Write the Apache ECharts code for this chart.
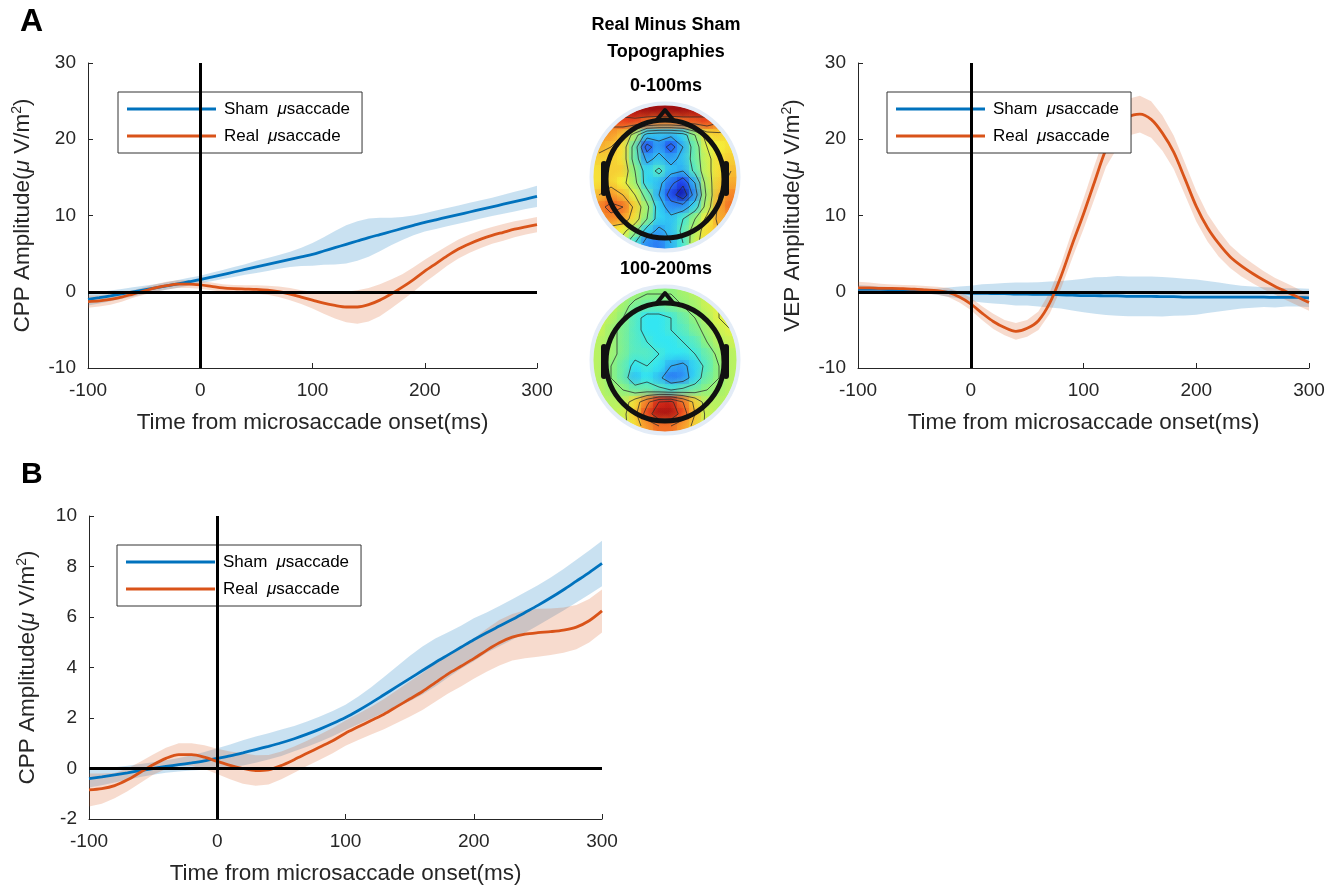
<!DOCTYPE html>
<html><head><meta charset="utf-8">
<script src="https://cdn.jsdelivr.net/npm/echarts/dist/echarts.min.js"></script>
<style>html,body{margin:0;padding:0;background:#fff}#c{width:1339px;height:888px}</style>
</head><body><div id="c"></div>
<script>
// ---------------- DATA ----------------
const time = [-100,-90,-80,-70,-60,-50,-40,-30,-20,-10,0,10,20,30,40,50,60,70,80,90,100,110,120,130,140,150,160,170,180,190,200,210,220,230,240,250,260,270,280,290,300];
const xTicks = [-100, 0, 100, 200, 300];
const seriesNames = ['Sham μsaccade', 'Real μsaccade'];

// Panel A left: CPP
const cppShamMean = [-1.0,-0.78,-0.54,-0.28,-0.02,0.24,0.5,0.76,1.04,1.32,1.6,1.93,2.26,2.59,2.92,3.25,3.58,3.91,4.24,4.57,4.9,5.34,5.78,6.22,6.66,7.1,7.5,7.9,8.3,8.7,9.1,9.44,9.78,10.12,10.46,10.8,11.14,11.48,11.82,12.16,12.5];
const cppShamErr  = [0.8,0.75,0.7,0.65,0.6,0.55,0.5,0.5,0.5,0.5,0.5,0.55,0.6,0.65,0.7,0.8,0.85,0.9,1.0,1.2,1.5,1.8,2.2,2.5,2.6,2.5,2.2,1.8,1.5,1.3,1.2,1.2,1.2,1.2,1.2,1.2,1.2,1.25,1.3,1.3,1.4];
const cppRealMean = [-1.3,-1.2,-1.0,-0.7,-0.3,0.1,0.5,0.8,1.0,1.0,0.9,0.7,0.5,0.4,0.35,0.3,0.2,0.0,-0.3,-0.7,-1.1,-1.5,-1.8,-2.0,-2.0,-1.7,-1.1,-0.3,0.6,1.6,2.7,3.7,4.7,5.6,6.3,6.9,7.4,7.8,8.2,8.5,8.8];
const cppRealErr  = [0.8,0.75,0.7,0.6,0.5,0.5,0.5,0.5,0.5,0.5,0.5,0.5,0.5,0.5,0.5,0.55,0.6,0.7,0.8,0.9,1.1,1.4,1.7,2.0,2.2,2.2,2.1,1.9,1.7,1.6,1.5,1.4,1.3,1.25,1.2,1.15,1.1,1.1,1.05,1.0,1.0];

// Panel A right: VEP
const vepShamMean = [0.3,0.3,0.3,0.25,0.2,0.15,0.1,0.0,-0.05,-0.1,-0.2,-0.2,-0.25,-0.25,-0.3,-0.3,-0.35,-0.35,-0.4,-0.45,-0.5,-0.5,-0.55,-0.55,-0.6,-0.6,-0.6,-0.65,-0.65,-0.7,-0.7,-0.7,-0.7,-0.7,-0.7,-0.7,-0.7,-0.75,-0.75,-0.75,-0.8];
const vepShamErr  = [0.6,0.5,0.4,0.35,0.3,0.3,0.3,0.4,0.6,0.8,1.0,1.2,1.3,1.4,1.5,1.5,1.6,1.7,1.8,2.0,2.2,2.4,2.5,2.6,2.6,2.6,2.6,2.6,2.5,2.4,2.3,2.1,1.9,1.7,1.5,1.4,1.3,1.3,1.2,1.2,1.2];
const vepRealMean = [0.5,0.5,0.45,0.45,0.4,0.35,0.25,0.15,-0.1,-0.7,-1.6,-2.8,-3.9,-4.7,-5.2,-4.8,-3.8,-1.5,2.0,6.2,10.2,14.5,18.7,21.3,22.9,23.3,22.6,20.8,18.3,14.8,11.2,8.4,6.3,4.6,3.4,2.4,1.5,0.7,0.0,-0.7,-1.4];
const vepRealErr  = [0.8,0.7,0.6,0.5,0.5,0.5,0.5,0.5,0.6,0.7,0.8,0.9,1.0,1.0,1.1,1.1,1.2,1.4,1.6,1.8,2.0,2.2,2.3,2.4,2.4,2.4,2.4,2.3,2.2,2.1,2.0,1.8,1.7,1.5,1.4,1.3,1.2,1.1,1.1,1.1,1.1];

// Panel B: CPP
const bShamMean = [-0.4,-0.33,-0.25,-0.17,-0.08,0.0,0.08,0.15,0.22,0.3,0.4,0.5,0.62,0.75,0.88,1.02,1.18,1.36,1.56,1.78,2.02,2.3,2.6,2.92,3.24,3.56,3.88,4.2,4.5,4.8,5.1,5.38,5.64,5.9,6.18,6.46,6.76,7.08,7.42,7.76,8.12];
const bShamErr  = [0.35,0.33,0.3,0.28,0.26,0.25,0.25,0.27,0.3,0.35,0.4,0.45,0.5,0.52,0.52,0.52,0.5,0.5,0.5,0.5,0.5,0.55,0.62,0.7,0.8,0.9,0.95,0.95,0.9,0.85,0.85,0.8,0.8,0.8,0.8,0.8,0.8,0.82,0.85,0.87,0.9];
const bRealMean = [-0.85,-0.8,-0.68,-0.45,-0.15,0.15,0.4,0.55,0.55,0.45,0.28,0.12,0.0,-0.08,-0.05,0.12,0.35,0.6,0.85,1.1,1.4,1.65,1.9,2.15,2.45,2.75,3.05,3.4,3.75,4.05,4.35,4.68,4.98,5.2,5.32,5.38,5.42,5.48,5.6,5.85,6.24];
const bRealErr  = [0.65,0.6,0.5,0.45,0.42,0.4,0.42,0.45,0.45,0.47,0.5,0.55,0.6,0.6,0.58,0.55,0.52,0.5,0.5,0.5,0.5,0.52,0.55,0.6,0.65,0.7,0.73,0.76,0.78,0.8,0.8,0.85,0.9,0.92,0.95,0.95,0.92,0.9,0.88,0.86,0.85];

// Topographies (real minus sham), 12x12 grid, rows top->bottom, -1 (blue) .. 1 (red)
const topo0to100 = [
 [0.8,0.85,0.9,0.95,1.0,1.0,1.0,1.0,0.95,0.9,0.85,0.8],
 [0.6,0.65,0.7,0.7,0.6,0.55,0.55,0.6,0.65,0.7,0.6,0.5],
 [0.55,0.5,0.4,0.1,-0.3,-0.35,-0.35,-0.3,0.0,0.3,0.35,0.3],
 [0.45,0.4,0.3,-0.1,-0.7,-0.45,-0.7,-0.4,-0.1,0.2,0.25,0.3],
 [0.35,0.35,0.3,-0.1,-0.45,-0.35,-0.45,-0.35,-0.1,0.15,0.3,0.35],
 [0.3,0.35,0.35,0.0,-0.3,-0.15,-0.35,-0.4,-0.15,0.15,0.3,0.4],
 [0.3,0.35,0.25,0.05,-0.3,-0.35,-0.55,-0.75,-0.4,0.1,0.35,0.45],
 [0.4,0.5,0.4,0.2,-0.1,-0.4,-0.7,-0.95,-0.5,0.05,0.4,0.55],
 [0.55,0.65,0.6,0.35,0.05,-0.3,-0.5,-0.5,-0.3,0.1,0.45,0.6],
 [0.5,0.55,0.5,0.3,0.0,-0.3,-0.35,-0.2,0.0,0.25,0.45,0.5],
 [0.3,0.3,0.25,0.05,-0.3,-0.45,-0.35,-0.15,0.1,0.3,0.4,0.4],
 [0.2,0.2,0.1,-0.2,-0.5,-0.55,-0.4,-0.2,0.15,0.3,0.3,0.3]
];
const topo100to200 = [
 [0.15,0.15,0.1,0.05,0.0,0.0,0.0,0.05,0.1,0.15,0.2,0.2],
 [0.2,0.15,0.05,-0.05,-0.1,-0.1,-0.05,0.0,0.05,0.15,0.2,0.2],
 [0.2,0.1,0.0,-0.15,-0.25,-0.25,-0.2,-0.1,0.0,0.1,0.2,0.2],
 [0.15,0.05,-0.05,-0.15,-0.25,-0.25,-0.2,-0.15,-0.05,0.05,0.15,0.2],
 [0.1,0.05,-0.05,-0.15,-0.2,-0.25,-0.25,-0.2,-0.15,0.0,0.1,0.15],
 [0.1,0.05,-0.05,-0.15,-0.15,-0.2,-0.25,-0.25,-0.2,-0.1,0.05,0.1],
 [0.1,0.0,-0.1,-0.25,-0.2,-0.25,-0.4,-0.45,-0.3,-0.15,0.0,0.1],
 [0.1,0.0,-0.1,-0.35,-0.25,-0.35,-0.55,-0.5,-0.3,-0.1,0.0,0.1],
 [0.1,0.05,0.0,-0.1,-0.1,-0.15,-0.2,-0.15,-0.1,0.0,0.05,0.1],
 [0.1,0.1,0.1,0.3,0.55,0.8,0.85,0.6,0.35,0.1,0.1,0.1],
 [0.1,0.1,0.15,0.35,0.7,0.95,0.95,0.7,0.4,0.15,0.1,0.1],
 [0.1,0.1,0.15,0.3,0.5,0.6,0.6,0.5,0.35,0.15,0.1,0.1]
];
const topoTitles = ['0-100ms', '100-200ms'];
const contourLevels = [-0.8, -0.6, -0.4, -0.2, 0.0, 0.2, 0.4, 0.6, 0.8];

// ---------------- STYLE ----------------
const FONT = '"Liberation Sans", Arial, Helvetica, sans-serif';
const TXT = '#262626';
const BLUE = '#0072BD', ORANGE = '#D95319';
const BLUE_BAND = 'rgba(0,114,189,0.21)', ORANGE_BAND = 'rgba(217,83,25,0.21)';
const TOPO_N = 12;

const chart = echarts.init(document.getElementById('c'), null, {renderer: 'canvas'});

const grids = [
  {left: 88, top: 63, width: 449, height: 305, outerBoundsMode: 'none'},
  {left: 858, top: 63, width: 451, height: 305, outerBoundsMode: 'none'},
  {left: 89, top: 516, width: 513, height: 303, outerBoundsMode: 'none'},
  {left: 593, top: 105, width: 144, height: 144, outerBoundsMode: 'none'},
  {left: 593, top: 288, width: 144, height: 144, outerBoundsMode: 'none'}
];

function yName(prefix) {
  return '{a|' + prefix + ' Amplitude(}{i|μ}{a| V/m}{s|2}{a|)}';
}
const nameRich = {
  a: {fontSize: 22.5, fontFamily: FONT, color: TXT, lineHeight: 26},
  i: {fontSize: 22.5, fontFamily: FONT, color: TXT, fontStyle: 'italic', lineHeight: 26},
  s: {fontSize: 14, fontFamily: FONT, color: TXT, lineHeight: 14, verticalAlign: 'top'}
};

function xAxisFor(gi) {
  return {
    gridIndex: gi, type: 'value', min: -100, max: 300, interval: 100,
    name: 'Time from microsaccade onset(ms)', nameLocation: 'middle', nameGap: 43,
    nameMoveOverlap: false,
    nameTextStyle: {fontSize: 22.5, fontFamily: FONT, color: TXT},
    axisLine: {show: true, onZero: false, lineStyle: {color: TXT, width: 1}},
    axisTick: {show: true, inside: true, length: 5, lineStyle: {color: TXT}},
    axisLabel: {fontSize: 19, fontFamily: FONT, color: TXT, margin: 13,
      customValues: xTicks, showMinLabel: true, showMaxLabel: true},
    splitLine: {show: false}
  };
}
function yAxisFor(gi, min, max, interval, prefix, gap) {
  return {
    gridIndex: gi, type: 'value', min: min, max: max, interval: interval,
    name: yName(prefix), nameLocation: 'middle', nameGap: gap, nameRotate: 90,
    nameMoveOverlap: false,
    nameTextStyle: {fontSize: 22.5, fontFamily: FONT, color: TXT, rich: nameRich},
    axisLine: {show: true, onZero: false, lineStyle: {color: TXT, width: 1}},
    axisTick: {show: true, inside: true, length: 5, lineStyle: {color: TXT}},
    axisLabel: {fontSize: 19, fontFamily: FONT, color: TXT, margin: 12, showMinLabel: true, showMaxLabel: true},
    splitLine: {show: false}
  };
}
function hiddenAxis(gi, inverse) {
  return {gridIndex: gi, type: 'value', min: 0, max: TOPO_N, inverse: !!inverse, show: false,
    axisLine: {show: false}, axisTick: {show: false}, axisLabel: {show: false}, splitLine: {show: false}};
}

const xAxes = [xAxisFor(0), xAxisFor(1), xAxisFor(2), hiddenAxis(3), hiddenAxis(4)];
const yAxes = [
  yAxisFor(0, -10, 30, 10, 'CPP', 52),
  yAxisFor(1, -10, 30, 10, 'VEP', 52),
  yAxisFor(2, -2, 10, 2, 'CPP', 48),
  hiddenAxis(3, true), hiddenAxis(4, true)
];

const series = [];
function addPanel(gi, mean, err, name, color, band) {
  // shaded error band: polygon through the axis scales
  series.push({
    type: 'custom', xAxisIndex: gi, yAxisIndex: gi, data: [[time[0], mean[0]]], silent: true, z: 1, clip: true,
    renderItem: function (params, api) {
      const up = time.map((t, i) => api.coord([t, mean[i] + err[i]]));
      const lo = time.map((t, i) => api.coord([t, mean[i] - err[i]])).reverse();
      return {type: 'polygon', shape: {points: up.concat(lo)}, style: {fill: band}};
    }
  });
  series.push({
    type: 'line', name: name, xAxisIndex: gi, yAxisIndex: gi,
    data: time.map((t, i) => [t, mean[i]]),
    symbol: 'none', smooth: 0.3, lineStyle: {color: color, width: 2.8}, itemStyle: {color: color}, z: 1
  });
}
function addZeroLines(gi) {
  series.push({
    type: 'line', xAxisIndex: gi, yAxisIndex: gi, data: [], silent: true, z: 5,
    markLine: {
      silent: true, symbol: ['none', 'none'], label: {show: false}, animation: false,
      lineStyle: {color: '#000', width: 3, type: 'solid'},
      emphasis: {disabled: true},
      data: [{xAxis: 0}, {yAxis: 0}]
    }
  });
}
addPanel(0, cppShamMean, cppShamErr, seriesNames[0], BLUE, BLUE_BAND);
addPanel(0, cppRealMean, cppRealErr, seriesNames[1], ORANGE, ORANGE_BAND);
addZeroLines(0);
addPanel(1, vepShamMean, vepShamErr, seriesNames[0], BLUE, BLUE_BAND);
addPanel(1, vepRealMean, vepRealErr, seriesNames[1], ORANGE, ORANGE_BAND);
addZeroLines(1);
addPanel(2, bShamMean, bShamErr, seriesNames[0], BLUE, BLUE_BAND);
addPanel(2, bRealMean, bRealErr, seriesNames[1], ORANGE, ORANGE_BAND);
addZeroLines(2);

function circleClip(api) {
  const ctr = api.coord([TOPO_N / 2, TOPO_N / 2]);
  const edge = api.coord([TOPO_N, TOPO_N / 2]);
  return {type: 'circle', shape: {cx: ctr[0], cy: ctr[1], r: Math.abs(edge[0] - ctr[0])}};
}
function topoRectRender(params, api) {
  const c = api.value(0), r = api.value(1);
  const p0 = api.coord([c, r]);
  const p1 = api.coord([c + 1, r + 1]);
  return {
    type: 'rect',
    shape: {x: Math.min(p0[0], p1[0]), y: Math.min(p0[1], p1[1]),
            width: Math.abs(p1[0] - p0[0]) + 0.7, height: Math.abs(p1[1] - p0[1]) + 0.7},
    style: {fill: api.visual('color')},
    clipPath: circleClip(api)
  };
}
function topoSoftRender(params, api) {
  const c = api.value(0), r = api.value(1);
  const p = api.coord([c + 0.5, r + 0.5]);
  const cell = Math.abs(api.coord([1, 0])[0] - api.coord([0, 0])[0]);
  const col = api.visual('color');
  return {
    type: 'circle',
    shape: {cx: p[0], cy: p[1], r: cell * 1.2},
    style: {fill: {type: 'radial', x: 0.5, y: 0.5, r: 0.5, colorStops: [
      {offset: 0, color: echarts.color.modifyAlpha(col, 0.65)},
      {offset: 0.55, color: echarts.color.modifyAlpha(col, 0.3)},
      {offset: 1, color: echarts.color.modifyAlpha(col, 0)}]}},
    clipPath: circleClip(api)
  };
}
// contour lines (marching squares over cell centres of the grid)
function makeContourRender(grid) {
  return function (params, api) {
    const children = [];
    const n = grid.length;
    const pt = (x, y) => api.coord([x + 0.5, y + 0.5]);
    contourLevels.forEach(L => {
      for (let r = 0; r < n - 1; r++) {
        for (let c = 0; c < n - 1; c++) {
          const v = [grid[r][c], grid[r][c + 1], grid[r + 1][c + 1], grid[r + 1][c]];
          const P = [[c, r], [c + 1, r], [c + 1, r + 1], [c, r + 1]];
          const cross = [];
          for (let e = 0; e < 4; e++) {
            const a = v[e] - L, b = v[(e + 1) % 4] - L;
            if ((a < 0 && b >= 0) || (a >= 0 && b < 0)) {
              const f = a / (a - b);
              const A = P[e], B = P[(e + 1) % 4];
              cross.push(pt(A[0] + (B[0] - A[0]) * f, A[1] + (B[1] - A[1]) * f));
            }
          }
          for (let k = 0; k + 1 < cross.length; k += 2) {
            children.push({type: 'line', shape: {x1: cross[k][0], y1: cross[k][1], x2: cross[k + 1][0], y2: cross[k + 1][1]},
              style: {stroke: 'rgba(40,40,40,0.75)', lineWidth: 1}});
          }
        }
      }
    });
    return {type: 'group', children: children, clipPath: circleClip(api)};
  };
}
const topoSeriesIdx = [];
[topo0to100, topo100to200].forEach((grid, k) => {
  const d = [];
  grid.forEach((row, r) => row.forEach((v, c) => d.push([c, r, v])));
  topoSeriesIdx.push(series.length);
  series.push({type: 'custom', xAxisIndex: 3 + k, yAxisIndex: 3 + k, data: d,
    renderItem: topoRectRender, clip: false, silent: true, z: 2});
  topoSeriesIdx.push(series.length);
  series.push({type: 'custom', xAxisIndex: 3 + k, yAxisIndex: 3 + k, data: d,
    renderItem: topoSoftRender, clip: false, silent: true, z: 3});
  series.push({type: 'custom', xAxisIndex: 3 + k, yAxisIndex: 3 + k, data: [[6, 6]],
    renderItem: makeContourRender(grid), clip: false, silent: true, z: 4});
});

const legendBase = {
  orient: 'vertical', icon: 'rect', itemWidth: 89, itemHeight: 3, itemGap: 7,
  padding: [7, 12, 7, 9], backgroundColor: '#fff', borderColor: '#333', borderWidth: 1,
  borderRadius: 0, selectedMode: false,
  data: seriesNames,
  formatter: n => n.replace(' μ', '{i|μ}'),
  textStyle: {fontSize: 17, fontFamily: FONT, color: '#000', lineHeight: 20, padding: [0, 0, 0, 3],
    rich: {i: {fontSize: 17, fontFamily: FONT, color: '#000', fontStyle: 'italic', lineHeight: 20, padding: [0, 0, 0, 9]}}}
};
const legends = [
  Object.assign({}, legendBase, {left: 118, top: 92}),
  Object.assign({}, legendBase, {left: 887, top: 92}),
  Object.assign({}, legendBase, {left: 117, top: 545})
];

// Head outlines and text
const graphics = [];
function txt(text, x, y, size) {
  graphics.push({type: 'text', x: x, y: y, z: 100, silent: true,
    style: {text: text, fontSize: size, fontWeight: 'bold', fontFamily: FONT, fill: '#000',
            align: 'center', verticalAlign: 'middle'}});
}
graphics.push({type: 'text', x: 20, y: 22, z: 100, silent: true,
  style: {text: 'A', fontSize: 32, fontWeight: 'bold', fontFamily: FONT, fill: '#000', align: 'left', verticalAlign: 'middle'}});
graphics.push({type: 'text', x: 21, y: 475, z: 100, silent: true,
  style: {text: 'B', fontSize: 30, fontWeight: 'bold', fontFamily: FONT, fill: '#000', align: 'left', verticalAlign: 'middle'}});
txt('Real Minus Sham', 666, 25, 18);
txt('Topographies', 666, 52, 18);
txt(topoTitles[0], 666, 86, 18);
txt(topoTitles[1], 666, 269, 18);

[[665, 177], [665, 360]].forEach(([cx, cy]) => {
  graphics.push({type: 'circle', z: 100, silent: true, shape: {cx: cx, cy: cy, r: 73.5},
    style: {fill: 'none', stroke: '#e3ecf7', lineWidth: 4}});
  const hy = cy + 2;
  graphics.push({type: 'circle', z: 101, silent: true, shape: {cx: cx, cy: hy, r: 59},
    style: {fill: 'none', stroke: '#111', lineWidth: 5}});
  graphics.push({type: 'polyline', z: 101, silent: true,
    shape: {points: [[cx - 9, hy - 58], [cx, hy - 69], [cx + 9, hy - 58]]},
    style: {fill: 'none', stroke: '#111', lineWidth: 4, lineJoin: 'round'}});
  graphics.push({type: 'rect', z: 101, silent: true, shape: {x: cx - 64, y: hy - 18, width: 6, height: 35, r: 3},
    style: {fill: '#111'}});
  graphics.push({type: 'rect', z: 101, silent: true, shape: {x: cx + 58, y: hy - 18, width: 6, height: 35, r: 3},
    style: {fill: '#111'}});
});

chart.setOption({
  animation: false,
  backgroundColor: '#fff',
  grid: grids,
  xAxis: xAxes,
  yAxis: yAxes,
  legend: legends,
  visualMap: [{
    type: 'continuous', show: false, min: -1, max: 1, dimension: 2, seriesIndex: topoSeriesIdx,
    inRange: {color: ['#10109a', '#1f3cf0', '#2d8cf5', '#33e6f2', '#8ff27c', '#f5f23a', '#f89a2c', '#e8321a', '#a01010']}
  }],
  graphic: graphics,
  series: series
});
</script></body></html>
